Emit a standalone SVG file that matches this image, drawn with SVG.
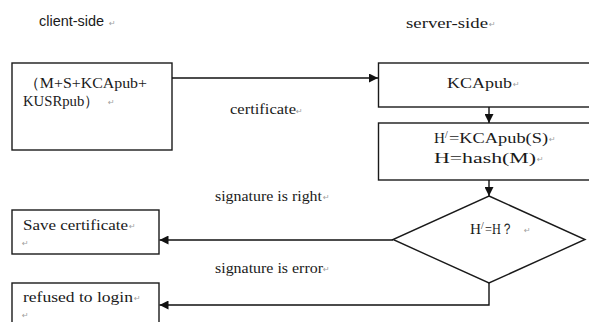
<svg xmlns="http://www.w3.org/2000/svg" width="589" height="322" viewBox="0 0 589 322">
  <defs>
    <marker id="arrow" viewBox="0 0 10 10" refX="10" refY="5" markerWidth="9" markerHeight="9" markerUnits="userSpaceOnUse" orient="auto">
      <path d="M0,0 L10,5 L0,10 Z" fill="#111"/>
    </marker>
    <style>
      .box { fill: #fff; stroke: #1a1a1a; stroke-width: 1.4; }
      .link { fill: none; stroke: #111; stroke-width: 1.4; }
      .serif { font-family: "Liberation Serif", "Times New Roman", serif; fill: #1a1a1a; }
      .sans { font-family: "Liberation Sans", Arial, sans-serif; fill: #1a1a1a; }
      .pm { font-family: "DejaVu Sans", sans-serif; font-size: 8px; fill: #a0a0a0; }
    </style>
  </defs>
  <rect width="589" height="322" fill="#fff"/>

  <!-- column headings -->
  <g id="client-heading">
    <text class="sans" x="39" y="26" font-size="14" textLength="65" lengthAdjust="spacingAndGlyphs">client-side</text>
    <text class="pm" x="109" y="26">↵</text>
  </g>
  <g id="server-heading">
    <text class="serif" x="406" y="28" font-size="15" textLength="82" lengthAdjust="spacingAndGlyphs">server-side</text>
    <text class="pm" x="489" y="27">↵</text>
  </g>

  <!-- client message -->
  <g id="client-message">
    <rect class="box" x="12" y="63" width="160" height="87"/>
    <text class="serif" x="24" y="88" font-size="15" textLength="123" lengthAdjust="spacingAndGlyphs">（M+S+KCApub+</text>
    <text class="serif" x="23" y="106" font-size="15" textLength="76" lengthAdjust="spacingAndGlyphs">KUSRpub）</text>
    <text class="pm" x="108" y="105">↵</text>
  </g>

  <!-- server: CA public key -->
  <g id="ca-key">
    <rect class="box" x="378.5" y="63" width="220" height="44"/>
    <text class="serif" x="447" y="88" font-size="15" textLength="65" lengthAdjust="spacingAndGlyphs">KCApub</text>
    <text class="pm" x="513" y="87">↵</text>
  </g>

  <!-- server: hash check values -->
  <g id="hash-values">
    <rect class="box" x="378.5" y="123" width="220" height="57"/>
    <text class="serif" x="434" y="143" font-size="15" textLength="11" lengthAdjust="spacingAndGlyphs">H</text>
    <text class="serif" x="445" y="138" font-size="10">/</text>
    <text class="serif" x="449" y="143" font-size="15" textLength="99" lengthAdjust="spacingAndGlyphs">=KCApub(S)</text>
    <text class="pm" x="549" y="142">↵</text>
    <text class="serif" x="434" y="163" font-size="15" textLength="102" lengthAdjust="spacingAndGlyphs">H=hash(M)</text>
    <text class="pm" x="537" y="162">↵</text>
  </g>

  <!-- decision -->
  <g id="decision">
    <polygon class="box" points="489,196 585,239.5 489,283 393,239.5"/>
    <text class="serif" x="470" y="234" font-size="15" textLength="11" lengthAdjust="spacingAndGlyphs">H</text>
    <text class="serif" x="481" y="229" font-size="10">/</text>
    <text class="serif" x="485" y="234" font-size="15" textLength="28" lengthAdjust="spacingAndGlyphs">=H？</text>
    <text class="pm" x="524" y="233">↵</text>
  </g>

  <!-- outcomes -->
  <g id="save-certificate">
    <rect class="box" x="12" y="210" width="147" height="44"/>
    <text class="serif" x="23" y="230" font-size="14" textLength="105" lengthAdjust="spacingAndGlyphs">Save certificate</text>
    <text class="pm" x="129" y="229">↵</text>
    <text class="pm" x="22" y="246">↵</text>
  </g>
  <g id="refused-login">
    <rect class="box" x="12" y="283" width="147" height="50"/>
    <text class="serif" x="23" y="302" font-size="14" textLength="110" lengthAdjust="spacingAndGlyphs">refused to login</text>
    <text class="pm" x="134" y="301">↵</text>
    <text class="pm" x="22" y="318">↵</text>
  </g>

  <!-- connectors -->
  <g id="connectors">
    <line class="link" x1="172" y1="78" x2="378" y2="78" marker-end="url(#arrow)"/>
    <line class="link" x1="489" y1="107" x2="489" y2="123" marker-end="url(#arrow)"/>
    <line class="link" x1="489" y1="180" x2="489" y2="196" marker-end="url(#arrow)"/>
    <line class="link" x1="393" y1="240" x2="159.5" y2="240" marker-end="url(#arrow)"/>
    <polyline class="link" points="489,283 489,305 159.5,305" marker-end="url(#arrow)"/>
  </g>

  <!-- connector labels -->
  <g id="connector-labels">
    <text class="serif" x="230" y="114" font-size="14" textLength="66" lengthAdjust="spacingAndGlyphs">certificate</text>
    <text class="pm" x="296" y="114">↵</text>
    <text class="serif" x="215" y="201" font-size="14" textLength="107" lengthAdjust="spacingAndGlyphs">signature is right</text>
    <text class="pm" x="323" y="200">↵</text>
    <text class="serif" x="215" y="273" font-size="14" textLength="108" lengthAdjust="spacingAndGlyphs">signature is error</text>
    <text class="pm" x="323" y="272">↵</text>
  </g>
</svg>
